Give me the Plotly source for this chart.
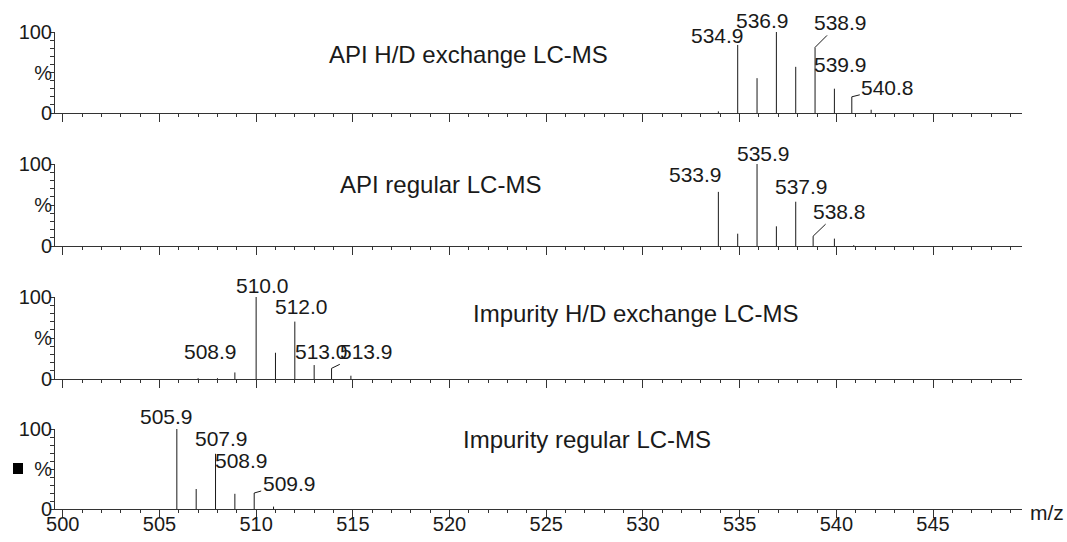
import plotly.graph_objects as go

# ---------------- data (m/z, relative intensity %) ----------------
mz_api_hd = [533.9, 534.9, 535.9, 536.9, 537.9, 538.9, 539.9, 540.8, 541.8]
int_api_hd = [2, 84, 43, 100, 57, 81, 30, 20, 4]
lab_api_hd = [534.9, 536.9, 538.9, 539.9, 540.8]

mz_api_reg = [533.9, 534.9, 535.9, 536.9, 537.9, 538.8, 539.9, 540.9]
int_api_reg = [66, 15, 100, 24, 54, 12, 9, 1]
lab_api_reg = [533.9, 535.9, 537.9, 538.8]

mz_imp_hd = [507.0, 508.0, 508.9, 510.0, 511.0, 512.0, 513.0, 513.9, 514.9]
int_imp_hd = [1, 1, 8, 100, 32, 70, 17, 13, 4]
lab_imp_hd = [508.9, 510.0, 512.0, 513.0, 513.9]

mz_imp_reg = [505.9, 506.9, 507.9, 508.9, 509.9, 510.9]
int_imp_reg = [100, 25, 69, 19, 20, 3]
lab_imp_reg = [505.9, 507.9, 508.9, 509.9]

titles = ["API H/D exchange LC-MS", "API regular LC-MS",
          "Impurity H/D exchange LC-MS", "Impurity regular LC-MS"]

y_tick_vals = [0, 50, 100]
y_tick_text = ["0", "%", "100"]
x_label = "m/z"

# ---------------- layout / style (pixels) ----------------
W, H = 1067, 542
ML, MR = 55, 45
panel_px = [(32, 113), (164, 246), (297, 379), (429, 509)]
title_px = [(468, 55), (440, 185), (635, 313), (587, 439)]
# label offsets: (dx px, dy px up, arrow?)
label_off = [
    [(-20, 9, False), (-14, 11, False), (25, 25, True), (6, 24, False), (36, 9, True)],
    [(-23, 17, False), (6, 11, False), (6, 15, False), (26, 25, True)],
    [(-24, 21, False), (6, 12, False), (7, 15, False), (7, 14, False), (35, 17, True)],
    [(-10, 13, False), (6, 15, False), (7, 33, False), (35, 10, True)],
]
FONT = "Liberation Sans, Arial, sans-serif"
INK = "#1a1a1a"
AX = "#333333"
XR = [499.6, 549.6]

panels = [
    (mz_api_hd, int_api_hd, lab_api_hd),
    (mz_api_reg, int_api_reg, lab_api_reg),
    (mz_imp_hd, int_imp_hd, lab_imp_hd),
    (mz_imp_reg, int_imp_reg, lab_imp_reg),
]

fig = go.Figure()
annotations = []
layout_axes = {}
pw = W - ML - MR

for i, (mz, ints, labs) in enumerate(panels):
    xa = "x" if i == 0 else f"x{i+1}"
    ya = "y" if i == 0 else f"y{i+1}"
    xs, ys = [], []
    for m, h in zip(mz, ints):
        xs += [m, m, None]
        ys += [0, h, None]
    fig.add_trace(go.Scatter(x=xs, y=ys, mode="lines",
                             line=dict(color=INK, width=1),
                             xaxis=xa, yaxis=ya, hoverinfo="skip",
                             showlegend=False))
    top, bot = panel_px[i]
    xkey = "xaxis" if i == 0 else f"xaxis{i+1}"
    ykey = "yaxis" if i == 0 else f"yaxis{i+1}"
    layout_axes[xkey] = dict(
        range=XR, domain=[0, 1], anchor=ya,
        showline=True, linecolor=AX, linewidth=1,
        ticks="outside", tick0=500, dtick=5, ticklen=8, tickcolor=AX, tickwidth=1,
        minor=dict(ticks="outside", tick0=500, dtick=1, ticklen=3, tickcolor=AX),
        showgrid=False, zeroline=False,
        showticklabels=(i == len(panels) - 1),
        tickfont=dict(size=20, color=INK, family=FONT),
        ticklabelstandoff=-11,
        fixedrange=True,
    )
    if i > 0:
        layout_axes[xkey]["matches"] = "x"
    layout_axes[ykey] = dict(
        range=[0, 100], domain=[1 - bot / H, 1 - top / H], anchor=xa,
        showline=True, linecolor=AX, linewidth=1,
        tickvals=y_tick_vals, ticktext=y_tick_text,
        ticks="outside", ticklen=4, tickcolor=AX,
        minor=dict(ticks="outside", dtick=10, ticklen=4, tickcolor=AX),
        showgrid=False, zeroline=False,
        tickfont=dict(size=20, color=INK, family=FONT),
        ticklabelstandoff=-6,
        fixedrange=True,
    )
    # peak labels
    for lab, (dx, dy, arrow) in zip(labs, label_off[i]):
        h = ints[mz.index(lab)]
        if arrow:
            annotations.append(dict(
                x=lab, y=h, xref=xa, yref=ya, text=f"{lab:.1f}",
                showarrow=True, arrowhead=0, arrowwidth=1, arrowcolor=INK,
                ax=dx, ay=-dy, standoff=0,
                font=dict(size=21, color=INK, family=FONT)))
        else:
            annotations.append(dict(
                x=lab, y=h, xref=xa, yref=ya, text=f"{lab:.1f}",
                showarrow=False, xanchor="center", yanchor="middle",
                xshift=dx, yshift=dy,
                font=dict(size=21, color=INK, family=FONT)))
    # panel title
    tx, ty = title_px[i]
    annotations.append(dict(
        x=(tx - ML) / pw, y=1 - ty / H, xref="paper", yref="paper",
        text=titles[i], showarrow=False, xanchor="center", yanchor="middle",
        font=dict(size=24, color=INK, family=FONT)))

# x-axis unit label
annotations.append(dict(
    x=(1047 - ML) / pw, y=1 - 512 / H, xref="paper", yref="paper",
    text=x_label, showarrow=False, xanchor="center", yanchor="middle",
    font=dict(size=21, color=INK, family=FONT)))

shapes = [dict(type="rect", xref="paper", yref="paper",
               x0=(13 - ML) / pw, x1=(23 - ML) / pw,
               y0=1 - 474 / H, y1=1 - 463 / H,
               fillcolor="black", line=dict(width=0))]

fig.update_layout(
    width=W, height=H,
    margin=dict(l=ML, r=MR, t=0, b=0, autoexpand=False),
    paper_bgcolor="white", plot_bgcolor="white",
    font=dict(family=FONT, color=INK),
    annotations=annotations, shapes=shapes,
    **layout_axes,
)

fig.write_html("out.html")
